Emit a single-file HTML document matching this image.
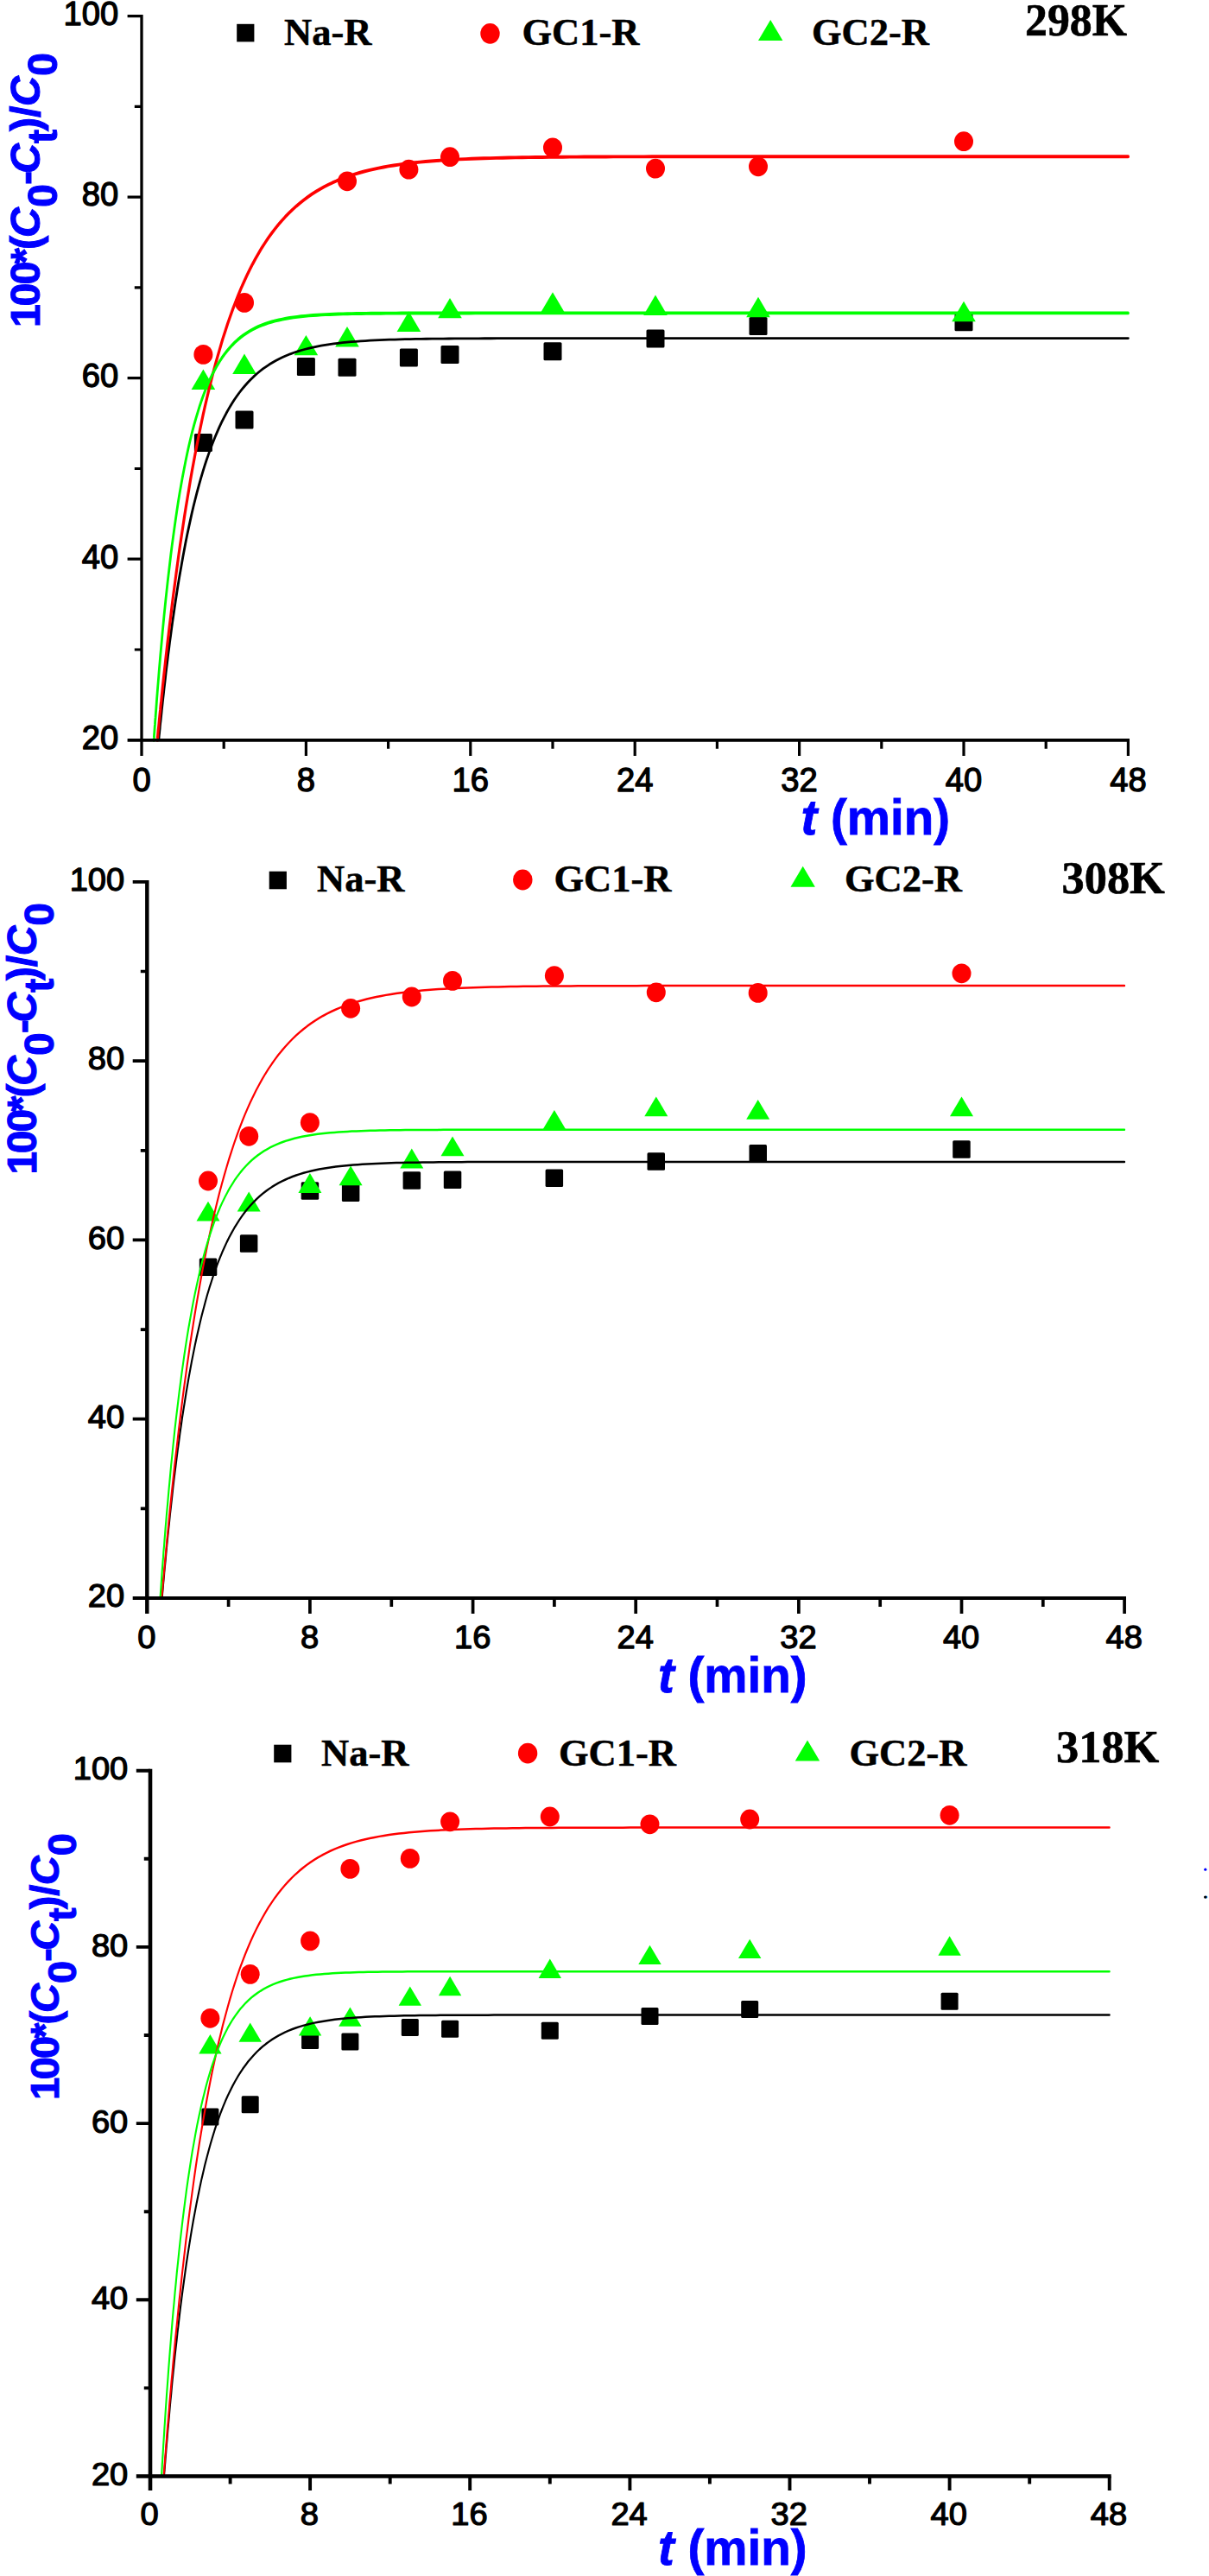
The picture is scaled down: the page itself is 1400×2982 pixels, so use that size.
<!DOCTYPE html>
<html lang="en"><head><meta charset="utf-8"><title>Adsorption kinetics</title>
<style>html,body{margin:0;padding:0;background:#fff}body{width:1400px;height:2982px;overflow:hidden}svg text{white-space:pre}</style></head>
<body>
<svg width="1400" height="2982" viewBox="0 0 1400 2982" style="display:block">
<rect width="1400" height="2982" fill="#fff"/>
<g id="p1">
<g fill="#000"><rect x="224.9" y="502" width="21" height="21" rx="1.5"/><rect x="272.5" y="475.5" width="21" height="21" rx="1.5"/><rect x="343.9" y="414" width="21" height="21" rx="1.5"/><rect x="391.5" y="414.8" width="21" height="21" rx="1.5"/><rect x="462.9" y="403.6" width="21" height="21" rx="1.5"/><rect x="510.5" y="399.9" width="21" height="21" rx="1.5"/><rect x="629.5" y="396.2" width="21" height="21" rx="1.5"/><rect x="748.5" y="381.5" width="21" height="21" rx="1.5"/><rect x="867.5" y="367" width="21" height="21" rx="1.5"/><rect x="1105.5" y="362.3" width="21" height="21" rx="1.5"/></g>
<g fill="#f00"><ellipse cx="235.4" cy="410.4" rx="11" ry="11.4"/><ellipse cx="283" cy="350.4" rx="11" ry="11.4"/><ellipse cx="402" cy="209.8" rx="11" ry="11.4"/><ellipse cx="473.4" cy="196.2" rx="11" ry="11.4"/><ellipse cx="521" cy="181.7" rx="11" ry="11.4"/><ellipse cx="640" cy="170.9" rx="11" ry="11.4"/><ellipse cx="759" cy="195.1" rx="11" ry="11.4"/><ellipse cx="878" cy="192.8" rx="11" ry="11.4"/><ellipse cx="1116" cy="163.7" rx="11" ry="11.4"/></g>
<g fill="#0f0"><path d="M235.4 427.6L249.2 451H221.6Z"/><path d="M283 409.5L296.8 432.9H269.2Z"/><path d="M354.4 387.9L368.2 411.3H340.6Z"/><path d="M402 378L415.8 401.4H388.2Z"/><path d="M473.4 360.6L487.2 384H459.6Z"/><path d="M521 344.9L534.8 368.3H507.2Z"/><path d="M640 338.3L653.8 361.7H626.2Z"/><path d="M759 341.5L772.8 364.9H745.2Z"/><path d="M878 343.8L891.8 367.2H864.2Z"/><path d="M1116 348.8L1129.8 372.2H1102.2Z"/></g>
<path d="M183.7 856.80 L183.7 856.77 L183.8 856.62 L183.8 856.32 L183.8 855.84 L183.9 855.17 L184 854.27 L184.1 853.15 L184.2 851.78 L184.4 850.15 L184.6 848.25 L184.8 846.08 L185.1 843.63 L185.3 840.89 L185.6 837.86 L186 834.53 L186.4 830.91 L186.8 827.00 L187.2 822.78 L187.7 818.28 L188.2 813.48 L188.8 808.40 L189.4 803.04 L190 797.40 L190.7 791.50 L191.4 785.34 L192.1 778.94 L192.9 772.29 L193.8 765.42 L194.6 758.33 L195.6 751.05 L196.5 743.57 L197.6 735.92 L198.6 728.11 L199.7 720.16 L200.9 712.08 L202.1 703.88 L203.3 695.59 L204.6 687.22 L205.9 678.78 L207.3 670.29 L208.8 661.78 L210.3 653.24 L211.8 644.71 L213.4 636.20 L215 627.71 L216.7 619.27 L218.5 610.90 L220.3 602.60 L222.1 594.38 L224 586.27 L226 578.27 L228 570.40 L230.1 562.66 L232.2 555.07 L234.4 547.64 L236.6 540.37 L238.9 533.27 L241.3 526.35 L243.7 519.62 L246.2 513.08 L248.7 506.73 L251.3 500.58 L253.9 494.64 L256.6 488.89 L259.4 483.36 L262.2 478.03 L265.1 472.91 L268 468.00 L271 463.29 L274.1 458.79 L277.2 454.49 L280.4 450.39 L283.7 446.48 L287 442.77 L290.4 439.24 L293.8 435.90 L297.3 432.74 L300.9 429.76 L304.5 426.94 L308.3 424.29 L312 421.79 L315.9 419.45 L319.8 417.25 L323.7 415.20 L327.8 413.28 L331.9 411.49 L336 409.82 L340.3 408.26 L344.6 406.82 L348.9 405.48 L353.4 404.25 L357.9 403.10 L362.4 402.05 L367.1 401.07 L371.8 400.18 L376.6 399.36 L381.5 398.61 L386.4 397.92 L391.4 397.29 L396.4 396.71 L401.6 396.19 L406.8 395.71 L412.1 395.28 L417.4 394.89 L422.9 394.53 L428.4 394.21 L433.9 393.92 L439.6 393.66 L445.3 393.43 L451.1 393.22 L457 393.03 L462.9 392.86 L469 392.71 L475 392.58 L481.2 392.46 L487.5 392.35 L493.8 392.26 L500.2 392.18 L506.7 392.10 L513.2 392.04 L519.8 391.98 L526.5 391.93 L533.3 391.89 L540.2 391.85 L547.1 391.82 L554.1 391.79 L561.2 391.76 L568.4 391.74 L575.7 391.72 L583 391.70 L590.4 391.69 L597.9 391.67 L605.5 391.66 L613.1 391.65 L620.8 391.65 L628.7 391.64 L636.5 391.63 L644.5 391.63 L652.6 391.62 L660.7 391.62 L668.9 391.62 L677.2 391.61 L685.6 391.61 L694.1 391.61 L702.6 391.61 L711.2 391.61 L720 391.61 L728.8 391.60 L737.6 391.60 L746.6 391.60 L755.6 391.60 L764.8 391.60 L774 391.60 L783.3 391.60 L792.7 391.60 L802.2 391.60 L811.7 391.60 L821.3 391.60 L831.1 391.60 L840.9 391.60 L850.8 391.60 L860.8 391.60 L870.9 391.60 L881 391.60 L891.3 391.60 L901.6 391.60 L912 391.60 L922.5 391.60 L933.1 391.60 L943.8 391.60 L954.6 391.60 L965.4 391.60 L976.4 391.60 L987.4 391.60 L998.6 391.60 L1009.8 391.60 L1021.1 391.60 L1032.5 391.60 L1044 391.60 L1055.6 391.60 L1067.2 391.60 L1079 391.60 L1090.8 391.60 L1102.8 391.60 L1114.8 391.60 L1126.9 391.60 L1139.2 391.60 L1151.5 391.60 L1163.9 391.60 L1176.4 391.60 L1188.9 391.60 L1201.6 391.60 L1214.4 391.60 L1227.3 391.60 L1240.2 391.60 L1253.3 391.60 L1266.4 391.60 L1279.6 391.60 L1293 391.60 L1306.4 391.60" fill="none" stroke="#000" stroke-width="2.8" stroke-linejoin="round" stroke-linecap="round"/>
<path d="M182.2 703.02 L182.2 702.99 L182.2 702.86 L182.2 702.61 L182.3 702.21 L182.3 701.64 L182.4 700.89 L182.5 699.94 L182.7 698.79 L182.8 697.41 L183 695.81 L183.2 693.97 L183.5 691.90 L183.8 689.57 L184.1 686.99 L184.4 684.16 L184.8 681.06 L185.2 677.70 L185.7 674.08 L186.1 670.19 L186.7 666.04 L187.2 661.63 L187.8 656.95 L188.4 652.01 L189.1 646.82 L189.8 641.37 L190.6 635.68 L191.4 629.74 L192.2 623.57 L193.1 617.16 L194 610.53 L195 603.69 L196 596.64 L197.1 589.39 L198.2 581.96 L199.3 574.35 L200.5 566.57 L201.8 558.63 L203.1 550.55 L204.4 542.33 L205.8 534.00 L207.2 525.55 L208.7 517.01 L210.3 508.38 L211.9 499.68 L213.5 490.92 L215.2 482.12 L217 473.28 L218.8 464.42 L220.6 455.56 L222.5 446.70 L224.5 437.85 L226.5 429.03 L228.6 420.26 L230.7 411.54 L232.9 402.88 L235.1 394.29 L237.4 385.79 L239.8 377.38 L242.2 369.08 L244.7 360.90 L247.2 352.83 L249.8 344.90 L252.5 337.11 L255.2 329.46 L257.9 321.96 L260.8 314.62 L263.6 307.45 L266.6 300.45 L269.6 293.62 L272.7 286.96 L275.8 280.49 L279 274.20 L282.3 268.10 L285.6 262.19 L289 256.46 L292.4 250.92 L295.9 245.58 L299.5 240.42 L303.1 235.45 L306.9 230.67 L310.6 226.07 L314.5 221.66 L318.4 217.44 L322.3 213.39 L326.4 209.51 L330.5 205.82 L334.7 202.29 L338.9 198.92 L343.2 195.72 L347.6 192.68 L352 189.79 L356.5 187.05 L361.1 184.45 L365.8 182.00 L370.5 179.68 L375.3 177.49 L380.2 175.43 L385.1 173.49 L390.1 171.66 L395.2 169.95 L400.3 168.34 L405.5 166.83 L410.8 165.42 L416.2 164.10 L421.6 162.87 L427.1 161.73 L432.7 160.66 L438.4 159.67 L444.1 158.75 L449.9 157.89 L455.8 157.10 L461.8 156.37 L467.8 155.69 L473.9 155.07 L480.1 154.49 L486.3 153.96 L492.7 153.48 L499.1 153.03 L505.5 152.62 L512.1 152.24 L518.7 151.90 L525.5 151.58 L532.2 151.30 L539.1 151.04 L546.1 150.80 L553.1 150.58 L560.2 150.39 L567.4 150.21 L574.6 150.05 L582 149.90 L589.4 149.77 L596.9 149.65 L604.5 149.55 L612.1 149.45 L619.9 149.36 L627.7 149.29 L635.6 149.22 L643.6 149.16 L651.7 149.10 L659.8 149.05 L668 149.01 L676.3 148.97 L684.7 148.93 L693.2 148.90 L701.8 148.87 L710.4 148.85 L719.1 148.83 L727.9 148.81 L736.8 148.79 L745.8 148.78 L754.9 148.76 L764 148.75 L773.2 148.74 L782.6 148.73 L792 148.73 L801.4 148.72 L811 148.71 L820.7 148.71 L830.4 148.70 L840.2 148.70 L850.2 148.70 L860.2 148.69 L870.2 148.69 L880.4 148.69 L890.7 148.69 L901 148.69 L911.5 148.68 L922 148.68 L932.6 148.68 L943.3 148.68 L954.1 148.68 L965 148.68 L975.9 148.68 L987 148.68 L998.1 148.68 L1009.4 148.68 L1020.7 148.68 L1032.1 148.68 L1043.6 148.68 L1055.2 148.68 L1066.9 148.68 L1078.7 148.68 L1090.5 148.68 L1102.5 148.68 L1114.6 148.68 L1126.7 148.68 L1138.9 148.68 L1151.3 148.68 L1163.7 148.68 L1176.2 148.68 L1188.8 148.68 L1201.5 148.68 L1214.3 148.68 L1227.1 148.68 L1240.1 148.68 L1253.2 148.68 L1266.4 148.68 L1279.6 148.68 L1293 148.68 L1306.4 148.68" transform="scale(1 1.2188)" fill="none" stroke="#f00" stroke-width="3.2" stroke-linejoin="round" stroke-linecap="round"/>
<path d="M178.1 615.14 L178.1 615.10 L178.2 614.95 L178.2 614.65 L178.2 614.17 L178.3 613.48 L178.4 612.57 L178.5 611.42 L178.6 610.03 L178.8 608.38 L179 606.46 L179.2 604.27 L179.5 601.79 L179.7 599.03 L180.1 595.98 L180.4 592.65 L180.8 589.02 L181.2 585.11 L181.6 580.92 L182.1 576.46 L182.6 571.72 L183.2 566.72 L183.8 561.46 L184.4 555.96 L185.1 550.23 L185.8 544.28 L186.6 538.12 L187.4 531.76 L188.2 525.23 L189.1 518.54 L190 511.70 L191 504.73 L192 497.65 L193.1 490.47 L194.2 483.22 L195.4 475.91 L196.6 468.56 L197.8 461.19 L199.1 453.81 L200.5 446.45 L201.9 439.12 L203.3 431.84 L204.8 424.61 L206.3 417.47 L207.9 410.42 L209.6 403.48 L211.3 396.66 L213.1 389.97 L214.9 383.43 L216.7 377.04 L218.6 370.81 L220.6 364.76 L222.6 358.89 L224.7 353.20 L226.9 347.70 L229.1 342.40 L231.3 337.30 L233.6 332.40 L236 327.71 L238.4 323.21 L240.9 318.93 L243.4 314.84 L246 310.96 L248.7 307.27 L251.4 303.78 L254.2 300.48 L257 297.37 L259.9 294.44 L262.9 291.68 L265.9 289.10 L269 286.69 L272.1 284.43 L275.3 282.33 L278.6 280.37 L281.9 278.56 L285.3 276.88 L288.8 275.32 L292.3 273.89 L295.9 272.57 L299.5 271.35 L303.3 270.24 L307.1 269.22 L310.9 268.29 L314.8 267.44 L318.8 266.67 L322.9 265.97 L327 265.33 L331.2 264.76 L335.4 264.24 L339.8 263.78 L344.1 263.36 L348.6 262.98 L353.1 262.65 L357.7 262.35 L362.4 262.08 L367.1 261.85 L372 261.63 L376.8 261.45 L381.8 261.28 L386.8 261.14 L391.9 261.01 L397.1 260.90 L402.3 260.80 L407.6 260.72 L413 260.64 L418.5 260.58 L424 260.52 L429.6 260.47 L435.3 260.43 L441 260.39 L446.9 260.36 L452.8 260.33 L458.7 260.31 L464.8 260.29 L470.9 260.27 L477.1 260.26 L483.4 260.25 L489.7 260.24 L496.2 260.23 L502.7 260.22 L509.3 260.21 L515.9 260.21 L522.7 260.21 L529.5 260.20 L536.4 260.20 L543.3 260.20 L550.4 260.19 L557.5 260.19 L564.7 260.19 L572 260.19 L579.4 260.19 L586.8 260.19 L594.4 260.19 L602 260.19 L609.7 260.19 L617.4 260.19 L625.3 260.19 L633.2 260.19 L641.2 260.19 L649.3 260.19 L657.5 260.19 L665.7 260.18 L674.1 260.18 L682.5 260.18 L691 260.18 L699.6 260.18 L708.3 260.18 L717 260.18 L725.9 260.18 L734.8 260.18 L743.8 260.18 L752.9 260.18 L762.1 260.18 L771.3 260.18 L780.7 260.18 L790.1 260.18 L799.6 260.18 L809.2 260.18 L818.9 260.18 L828.7 260.18 L838.6 260.18 L848.5 260.18 L858.6 260.18 L868.7 260.18 L878.9 260.18 L889.2 260.18 L899.6 260.18 L910 260.18 L920.6 260.18 L931.3 260.18 L942 260.18 L952.8 260.18 L963.7 260.18 L974.8 260.18 L985.9 260.18 L997 260.18 L1008.3 260.18 L1019.7 260.18 L1031.1 260.18 L1042.7 260.18 L1054.3 260.18 L1066 260.18 L1077.9 260.18 L1089.8 260.18 L1101.8 260.18 L1113.9 260.18 L1126.1 260.18 L1138.3 260.18 L1150.7 260.18 L1163.2 260.18 L1175.7 260.18 L1188.4 260.18 L1201.1 260.18 L1213.9 260.18 L1226.9 260.18 L1239.9 260.18 L1253 260.18 L1266.2 260.18 L1279.5 260.18 L1292.9 260.18 L1306.4 260.18" transform="scale(1 1.3929)" fill="none" stroke="#0f0" stroke-width="2.8" stroke-linejoin="round" stroke-linecap="round"/>
<g stroke="#000" fill="none">
<path d="M164 17V874.9" stroke-width="3.3"/>
<path d="M147.6 856.8H1308" stroke-width="3.7"/>
<path d="M155.8 752H164M147.6 647.2H164M155.8 542.5H164M147.6 437.7H164M155.8 332.9H164M147.6 228.1H164M155.8 123.4H164M147.6 18.6H164M259.2 856.8V866.8M354.4 856.8V874.9M449.6 856.8V866.8M544.8 856.8V874.9M640 856.8V866.8M735.2 856.8V874.9M830.4 856.8V866.8M925.6 856.8V874.9M1020.8 856.8V866.8M1116 856.8V874.9M1211.2 856.8V866.8M1306.4 856.8V874.9" stroke-width="3.2"/>
</g>
<g font-family="Liberation Sans, Arial, sans-serif" font-size="38.2" fill="#000" stroke="#000" stroke-width="1.3" stroke-linejoin="round">
<text transform="translate(137.3 867) scale(1 1.035)" text-anchor="end">20</text>
<text transform="translate(137.3 657.5) scale(1 1.035)" text-anchor="end">40</text>
<text transform="translate(137.3 447.9) scale(1 1.035)" text-anchor="end">60</text>
<text transform="translate(137.3 238.3) scale(1 1.035)" text-anchor="end">80</text>
<text transform="translate(137.3 28.8) scale(1 1.035)" text-anchor="end">100</text>
<text transform="translate(164 915.8) scale(1 1.035)" text-anchor="middle">0</text>
<text transform="translate(354.4 915.8) scale(1 1.035)" text-anchor="middle">8</text>
<text transform="translate(544.8 915.8) scale(1 1.035)" text-anchor="middle">16</text>
<text transform="translate(735.2 915.8) scale(1 1.035)" text-anchor="middle">24</text>
<text transform="translate(925.6 915.8) scale(1 1.035)" text-anchor="middle">32</text>
<text transform="translate(1116 915.8) scale(1 1.035)" text-anchor="middle">40</text>
<text transform="translate(1306.4 915.8) scale(1 1.035)" text-anchor="middle">48</text>
</g>
<text x="927.5" y="965.6" font-family="Liberation Sans, Arial, sans-serif" font-size="56.5" font-weight="bold" fill="#00f" stroke="#00f" stroke-width="0.8"><tspan font-style="italic">t</tspan> (min)</text>
<g transform="translate(45.5 379) rotate(-90) scale(1.0)" font-family="Liberation Sans, Arial, sans-serif" font-size="48.5" font-weight="bold" fill="#00f" stroke="#00f" stroke-width="1">
<text><tspan x="0 24.5 49.5 73 90" y="0">100*(</tspan><tspan x="104" y="0" font-style="italic">C</tspan><tspan x="139" y="20.7">0</tspan><tspan x="165" y="0">-</tspan><tspan x="178" y="0" font-style="italic">C</tspan><tspan x="213" y="20.7">t</tspan><tspan x="227 243" y="0">)/</tspan><tspan x="256" y="0" font-style="italic">C</tspan><tspan x="291" y="20.7">0</tspan></text>
</g>
<rect x="274.2" y="27.8" width="20.2" height="20.6" fill="#000"/>
<ellipse cx="567.5" cy="38.8" rx="11.2" ry="11.9" fill="#f00"/>
<path d="M892.2 22.9L906.4 46.9H878Z" fill="#0f0"/>
<g font-family="Liberation Serif, Times New Roman, serif" font-size="44.5" font-weight="bold" fill="#000" stroke="#000" stroke-width="0.5">
<text x="329" y="52.2">Na-R</text>
<text x="604.5" y="52.2">GC1-R</text>
<text x="940" y="52.2">GC2-R</text>
</g>
<text x="1187" y="40.7" font-family="Liberation Serif, Times New Roman, serif" font-size="51.8" font-weight="bold" fill="#000" stroke="#000" stroke-width="0.6">298K</text>
</g>
<g id="p2">
<g fill="#000"><rect x="230.8" y="1456.5" width="20.5" height="20.5" rx="1.5"/><rect x="277.9" y="1429.2" width="20.5" height="20.5" rx="1.5"/><rect x="348.7" y="1368.3" width="20.5" height="20.5" rx="1.5"/><rect x="395.9" y="1370.5" width="20.5" height="20.5" rx="1.5"/><rect x="466.6" y="1356.3" width="20.5" height="20.5" rx="1.5"/><rect x="513.8" y="1355.5" width="20.5" height="20.5" rx="1.5"/><rect x="631.6" y="1353.5" width="20.5" height="20.5" rx="1.5"/><rect x="749.5" y="1334.2" width="20.5" height="20.5" rx="1.5"/><rect x="867.5" y="1325" width="20.5" height="20.5" rx="1.5"/><rect x="1103.2" y="1320.3" width="20.5" height="20.5" rx="1.5"/></g>
<g fill="#f00"><ellipse cx="241" cy="1367" rx="11" ry="11.4"/><ellipse cx="288.2" cy="1315.3" rx="11" ry="11.4"/><ellipse cx="358.9" cy="1299.6" rx="11" ry="11.4"/><ellipse cx="406.1" cy="1167.3" rx="11" ry="11.4"/><ellipse cx="476.8" cy="1154" rx="11" ry="11.4"/><ellipse cx="524" cy="1135.4" rx="11" ry="11.4"/><ellipse cx="641.9" cy="1129.6" rx="11" ry="11.4"/><ellipse cx="759.8" cy="1148.8" rx="11" ry="11.4"/><ellipse cx="877.7" cy="1149.4" rx="11" ry="11.4"/><ellipse cx="1113.5" cy="1126.8" rx="11" ry="11.4"/></g>
<g fill="#0f0"><path d="M241 1390.8L254.5 1413.6H227.5Z"/><path d="M288.2 1379.6L301.7 1402.4H274.7Z"/><path d="M358.9 1358.1L372.4 1380.9H345.4Z"/><path d="M406.1 1349.4L419.6 1372.2H392.6Z"/><path d="M476.8 1329.6L490.3 1352.4H463.3Z"/><path d="M524 1315.5L537.5 1338.3H510.5Z"/><path d="M641.9 1284.9L655.4 1307.7H628.4Z"/><path d="M759.8 1269.4L773.3 1292.2H746.3Z"/><path d="M877.7 1272.9L891.2 1295.7H864.2Z"/><path d="M1113.5 1269.4L1127 1292.2H1100Z"/></g>
<path d="M187.6 1554.00 L187.6 1553.97 L187.6 1553.83 L187.7 1553.54 L187.7 1553.09 L187.8 1552.45 L187.9 1551.60 L188 1550.53 L188.1 1549.23 L188.3 1547.68 L188.5 1545.88 L188.7 1543.82 L188.9 1541.50 L189.2 1538.90 L189.5 1536.03 L189.9 1532.87 L190.2 1529.44 L190.6 1525.73 L191.1 1521.74 L191.6 1517.47 L192.1 1512.94 L192.6 1508.13 L193.2 1503.06 L193.8 1497.73 L194.5 1492.16 L195.2 1486.35 L196 1480.30 L196.7 1474.04 L197.6 1467.56 L198.5 1460.89 L199.4 1454.03 L200.3 1447.01 L201.3 1439.82 L202.4 1432.49 L203.5 1425.04 L204.6 1417.47 L205.8 1409.80 L207.1 1402.05 L208.3 1394.23 L209.7 1386.36 L211 1378.46 L212.5 1370.53 L214 1362.61 L215.5 1354.69 L217.1 1346.80 L218.7 1338.95 L220.4 1331.15 L222.1 1323.42 L223.9 1315.77 L225.7 1308.22 L227.6 1300.77 L229.6 1293.44 L231.6 1286.24 L233.6 1279.18 L235.8 1272.26 L237.9 1265.50 L240.1 1258.90 L242.4 1252.47 L244.8 1246.21 L247.1 1240.14 L249.6 1234.25 L252.1 1228.55 L254.7 1223.04 L257.3 1217.73 L260 1212.61 L262.7 1207.69 L265.5 1202.96 L268.4 1198.43 L271.3 1194.10 L274.3 1189.96 L277.3 1186.01 L280.4 1182.25 L283.6 1178.67 L286.8 1175.28 L290.1 1172.06 L293.5 1169.02 L296.9 1166.14 L300.4 1163.43 L303.9 1160.87 L307.6 1158.47 L311.2 1156.22 L315 1154.11 L318.8 1152.13 L322.6 1150.29 L326.6 1148.57 L330.6 1146.97 L334.7 1145.48 L338.8 1144.10 L343 1142.82 L347.3 1141.63 L351.6 1140.54 L356 1139.53 L360.5 1138.61 L365 1137.75 L369.6 1136.97 L374.3 1136.26 L379.1 1135.60 L383.9 1135.01 L388.8 1134.46 L393.8 1133.97 L398.8 1133.52 L403.9 1133.12 L409.1 1132.75 L414.3 1132.41 L419.6 1132.11 L425 1131.84 L430.5 1131.60 L436 1131.38 L441.6 1131.19 L447.3 1131.02 L453.1 1130.86 L458.9 1130.72 L464.8 1130.60 L470.8 1130.49 L476.8 1130.39 L482.9 1130.31 L489.1 1130.23 L495.4 1130.16 L501.8 1130.11 L508.2 1130.05 L514.7 1130.01 L521.3 1129.97 L527.9 1129.93 L534.7 1129.90 L541.5 1129.88 L548.4 1129.85 L555.3 1129.83 L562.4 1129.82 L569.5 1129.80 L576.7 1129.79 L584 1129.78 L591.3 1129.77 L598.8 1129.76 L606.3 1129.75 L613.9 1129.75 L621.6 1129.74 L629.3 1129.74 L637.1 1129.74 L645.1 1129.73 L653.1 1129.73 L661.1 1129.73 L669.3 1129.73 L677.5 1129.72 L685.8 1129.72 L694.2 1129.72 L702.7 1129.72 L711.3 1129.72 L720 1129.72 L728.7 1129.72 L737.5 1129.72 L746.4 1129.72 L755.4 1129.72 L764.4 1129.72 L773.6 1129.72 L782.8 1129.72 L792.1 1129.72 L801.5 1129.72 L811 1129.72 L820.6 1129.72 L830.3 1129.72 L840 1129.72 L849.8 1129.72 L859.8 1129.72 L869.8 1129.72 L879.8 1129.72 L890 1129.72 L900.3 1129.72 L910.6 1129.72 L921.1 1129.72 L931.6 1129.72 L942.2 1129.72 L952.9 1129.72 L963.7 1129.72 L974.5 1129.72 L985.5 1129.72 L996.5 1129.72 L1007.7 1129.72 L1018.9 1129.72 L1030.2 1129.72 L1041.6 1129.72 L1053.1 1129.72 L1064.7 1129.72 L1076.4 1129.72 L1088.2 1129.72 L1100 1129.72 L1112 1129.72 L1124 1129.72 L1136.1 1129.72 L1148.3 1129.72 L1160.6 1129.72 L1173 1129.72 L1185.5 1129.72 L1198.1 1129.72 L1210.8 1129.72 L1223.6 1129.72 L1236.4 1129.72 L1249.4 1129.72 L1262.4 1129.72 L1275.6 1129.72 L1288.8 1129.72 L1302.1 1129.72" transform="scale(1 1.1905)" fill="none" stroke="#000" stroke-width="2.1" stroke-linejoin="round" stroke-linecap="round"/>
<path d="M187.3 1554.00 L187.3 1553.97 L187.3 1553.83 L187.3 1553.54 L187.4 1553.09 L187.4 1552.45 L187.5 1551.60 L187.6 1550.53 L187.8 1549.22 L187.9 1547.67 L188.1 1545.86 L188.3 1543.79 L188.6 1541.44 L188.9 1538.82 L189.2 1535.91 L189.5 1532.71 L189.9 1529.22 L190.3 1525.44 L190.7 1521.36 L191.2 1516.98 L191.7 1512.31 L192.3 1507.35 L192.9 1502.09 L193.5 1496.54 L194.2 1490.71 L194.9 1484.60 L195.6 1478.21 L196.4 1471.56 L197.2 1464.65 L198.1 1457.49 L199 1450.08 L200 1442.44 L201 1434.57 L202 1426.50 L203.1 1418.22 L204.3 1409.75 L205.5 1401.11 L206.7 1392.30 L208 1383.34 L209.3 1374.24 L210.7 1365.02 L212.1 1355.69 L213.6 1346.27 L215.2 1336.76 L216.7 1327.19 L218.4 1317.56 L220 1307.90 L221.8 1298.22 L223.6 1288.52 L225.4 1278.84 L227.3 1269.17 L229.3 1259.53 L231.3 1249.94 L233.3 1240.41 L235.4 1230.96 L237.6 1221.58 L239.8 1212.31 L242.1 1203.14 L244.4 1194.09 L246.8 1185.17 L249.3 1176.38 L251.8 1167.75 L254.3 1159.27 L257 1150.95 L259.7 1142.80 L262.4 1134.84 L265.2 1127.05 L268.1 1119.46 L271 1112.06 L274 1104.86 L277 1097.86 L280.1 1091.06 L283.3 1084.47 L286.5 1078.10 L289.8 1071.93 L293.2 1065.97 L296.6 1060.22 L300.1 1054.68 L303.6 1049.35 L307.2 1044.22 L310.9 1039.31 L314.7 1034.59 L318.5 1030.08 L322.3 1025.76 L326.3 1021.64 L330.3 1017.70 L334.4 1013.96 L338.5 1010.39 L342.7 1007.00 L347 1003.78 L351.3 1000.73 L355.7 997.85 L360.2 995.12 L364.7 992.54 L369.4 990.11 L374 987.81 L378.8 985.66 L383.6 983.63 L388.5 981.73 L393.5 979.95 L398.5 978.28 L403.6 976.72 L408.8 975.27 L414 973.91 L419.4 972.64 L424.8 971.47 L430.2 970.38 L435.8 969.36 L441.4 968.42 L447 967.55 L452.8 966.75 L458.6 966.01 L464.5 965.32 L470.5 964.70 L476.6 964.12 L482.7 963.59 L488.9 963.10 L495.2 962.65 L501.5 962.24 L508 961.87 L514.5 961.53 L521 961.22 L527.7 960.94 L534.4 960.68 L541.2 960.45 L548.1 960.24 L555.1 960.05 L562.2 959.88 L569.3 959.72 L576.5 959.58 L583.8 959.46 L591.1 959.34 L598.6 959.24 L606.1 959.15 L613.7 959.07 L621.3 959.00 L629.1 958.93 L636.9 958.87 L644.9 958.82 L652.9 958.78 L660.9 958.74 L669.1 958.70 L677.3 958.67 L685.7 958.64 L694.1 958.61 L702.5 958.59 L711.1 958.57 L719.8 958.56 L728.5 958.54 L737.3 958.53 L746.2 958.52 L755.2 958.51 L764.3 958.50 L773.4 958.49 L782.7 958.48 L792 958.48 L801.4 958.47 L810.9 958.47 L820.5 958.46 L830.1 958.46 L839.9 958.46 L849.7 958.45 L859.6 958.45 L869.6 958.45 L879.7 958.45 L889.9 958.45 L900.1 958.45 L910.5 958.45 L920.9 958.44 L931.5 958.44 L942.1 958.44 L952.8 958.44 L963.6 958.44 L974.4 958.44 L985.4 958.44 L996.5 958.44 L1007.6 958.44 L1018.8 958.44 L1030.1 958.44 L1041.6 958.44 L1053.1 958.44 L1064.6 958.44 L1076.3 958.44 L1088.1 958.44 L1099.9 958.44 L1111.9 958.44 L1123.9 958.44 L1136.1 958.44 L1148.3 958.44 L1160.6 958.44 L1173 958.44 L1185.5 958.44 L1198.1 958.44 L1210.8 958.44 L1223.5 958.44 L1236.4 958.44 L1249.4 958.44 L1262.4 958.44 L1275.6 958.44 L1288.8 958.44 L1302.1 958.44" transform="scale(1 1.1905)" fill="none" stroke="#f00" stroke-width="2.1" stroke-linejoin="round" stroke-linecap="round"/>
<path d="M185.5 1554.00 L185.5 1553.96 L185.5 1553.79 L185.6 1553.43 L185.6 1552.87 L185.7 1552.08 L185.8 1551.02 L185.9 1549.70 L186 1548.09 L186.2 1546.17 L186.4 1543.95 L186.6 1541.40 L186.8 1538.52 L187.1 1535.32 L187.4 1531.77 L187.7 1527.89 L188.1 1523.67 L188.5 1519.12 L189 1514.22 L189.4 1509.00 L190 1503.46 L190.5 1497.60 L191.1 1491.43 L191.7 1484.97 L192.4 1478.22 L193.1 1471.20 L193.9 1463.92 L194.7 1456.40 L195.5 1448.65 L196.4 1440.68 L197.3 1432.53 L198.2 1424.20 L199.3 1415.71 L200.3 1407.09 L201.4 1398.35 L202.5 1389.51 L203.7 1380.60 L205 1371.63 L206.3 1362.62 L207.6 1353.60 L209 1344.58 L210.4 1335.58 L211.9 1326.63 L213.4 1317.73 L215 1308.91 L216.6 1300.19 L218.3 1291.57 L220.1 1283.09 L221.9 1274.74 L223.7 1266.55 L225.6 1258.52 L227.6 1250.67 L229.6 1243.01 L231.6 1235.55 L233.7 1228.30 L235.9 1221.26 L238.1 1214.44 L240.4 1207.84 L242.8 1201.48 L245.2 1195.35 L247.6 1189.45 L250.1 1183.79 L252.7 1178.37 L255.3 1173.18 L258 1168.22 L260.8 1163.50 L263.6 1159.01 L266.4 1154.75 L269.4 1150.70 L272.3 1146.88 L275.4 1143.26 L278.5 1139.86 L281.7 1136.65 L284.9 1133.64 L288.2 1130.81 L291.6 1128.17 L295 1125.69 L298.5 1123.39 L302.1 1121.24 L305.7 1119.25 L309.4 1117.40 L313.1 1115.68 L316.9 1114.10 L320.8 1112.64 L324.7 1111.29 L328.8 1110.05 L332.8 1108.92 L337 1107.88 L341.2 1106.93 L345.5 1106.06 L349.8 1105.27 L354.2 1104.55 L358.7 1103.90 L363.3 1103.31 L367.9 1102.78 L372.6 1102.30 L377.3 1101.86 L382.2 1101.47 L387.1 1101.12 L392 1100.81 L397.1 1100.53 L402.2 1100.28 L407.4 1100.06 L412.6 1099.86 L418 1099.68 L423.4 1099.53 L428.8 1099.39 L434.4 1099.27 L440 1099.17 L445.7 1099.07 L451.5 1098.99 L457.3 1098.92 L463.2 1098.86 L469.2 1098.80 L475.3 1098.75 L481.4 1098.71 L487.6 1098.68 L493.9 1098.65 L500.3 1098.62 L506.7 1098.60 L513.2 1098.58 L519.8 1098.56 L526.5 1098.55 L533.2 1098.53 L540 1098.52 L546.9 1098.51 L553.9 1098.51 L561 1098.50 L568.1 1098.50 L575.3 1098.49 L582.6 1098.49 L590 1098.48 L597.4 1098.48 L605 1098.48 L612.6 1098.48 L620.3 1098.48 L628 1098.47 L635.9 1098.47 L643.8 1098.47 L651.8 1098.47 L659.9 1098.47 L668.1 1098.47 L676.3 1098.47 L684.7 1098.47 L693.1 1098.47 L701.6 1098.47 L710.2 1098.47 L718.8 1098.47 L727.6 1098.47 L736.4 1098.47 L745.3 1098.47 L754.3 1098.47 L763.4 1098.47 L772.6 1098.47 L781.8 1098.47 L791.2 1098.47 L800.6 1098.47 L810.1 1098.47 L819.7 1098.47 L829.4 1098.47 L839.1 1098.47 L849 1098.47 L858.9 1098.47 L868.9 1098.47 L879 1098.47 L889.2 1098.47 L899.5 1098.47 L909.9 1098.47 L920.3 1098.47 L930.9 1098.47 L941.5 1098.47 L952.2 1098.47 L963 1098.47 L973.9 1098.47 L984.9 1098.47 L996 1098.47 L1007.1 1098.47 L1018.4 1098.47 L1029.7 1098.47 L1041.1 1098.47 L1052.7 1098.47 L1064.3 1098.47 L1076 1098.47 L1087.7 1098.47 L1099.6 1098.47 L1111.6 1098.47 L1123.7 1098.47 L1135.8 1098.47 L1148 1098.47 L1160.4 1098.47 L1172.8 1098.47 L1185.3 1098.47 L1197.9 1098.47 L1210.6 1098.47 L1223.4 1098.47 L1236.3 1098.47 L1249.3 1098.47 L1262.4 1098.47 L1275.5 1098.47 L1288.8 1098.47 L1302.1 1098.47" transform="scale(1 1.1905)" fill="none" stroke="#0f0" stroke-width="2.1" stroke-linejoin="round" stroke-linecap="round"/>
<g stroke="#000" fill="none">
<path d="M170.3 1019V1867.9" stroke-width="4.4"/>
<path d="M153.7 1850H1304" stroke-width="4.0"/>
<path d="M162.8 1746.4H170.3M153.7 1642.7H170.3M162.8 1539.1H170.3M153.7 1435.4H170.3M162.8 1331.8H170.3M153.7 1228.2H170.3M162.8 1124.5H170.3M153.7 1020.9H170.3M264.6 1850V1859.9M358.9 1850V1867.9M453.3 1850V1859.9M547.6 1850V1867.9M641.9 1850V1859.9M736.2 1850V1867.9M830.5 1850V1859.9M924.9 1850V1867.9M1019.2 1850V1859.9M1113.5 1850V1867.9M1207.8 1850V1859.9M1302.1 1850V1867.9" stroke-width="3.7"/>
</g>
<g font-family="Liberation Sans, Arial, sans-serif" font-size="38.1" fill="#000" stroke="#000" stroke-width="1.3" stroke-linejoin="round">
<text transform="translate(144.2 1860.2) scale(1 0.975)" text-anchor="end">20</text>
<text transform="translate(144.2 1652.9) scale(1 0.975)" text-anchor="end">40</text>
<text transform="translate(144.2 1445.6) scale(1 0.975)" text-anchor="end">60</text>
<text transform="translate(144.2 1238.4) scale(1 0.975)" text-anchor="end">80</text>
<text transform="translate(144.2 1031.1) scale(1 0.975)" text-anchor="end">100</text>
<text transform="translate(169.9 1907.8) scale(1 0.975)" text-anchor="middle">0</text>
<text transform="translate(358.5 1907.8) scale(1 0.975)" text-anchor="middle">8</text>
<text transform="translate(547.2 1907.8) scale(1 0.975)" text-anchor="middle">16</text>
<text transform="translate(735.8 1907.8) scale(1 0.975)" text-anchor="middle">24</text>
<text transform="translate(924.5 1907.8) scale(1 0.975)" text-anchor="middle">32</text>
<text transform="translate(1113.1 1907.8) scale(1 0.975)" text-anchor="middle">40</text>
<text transform="translate(1301.7 1907.8) scale(1 0.975)" text-anchor="middle">48</text>
</g>
<text x="762" y="1958.6" font-family="Liberation Sans, Arial, sans-serif" font-size="56.5" font-weight="bold" fill="#00f" stroke="#00f" stroke-width="0.8"><tspan font-style="italic">t</tspan> (min)</text>
<g transform="translate(42 1359.5) rotate(-90) scale(0.989)" font-family="Liberation Sans, Arial, sans-serif" font-size="48.5" font-weight="bold" fill="#00f" stroke="#00f" stroke-width="1">
<text><tspan x="0 24.5 49.5 73 90" y="0">100*(</tspan><tspan x="104" y="0" font-style="italic">C</tspan><tspan x="139" y="20.7">0</tspan><tspan x="165" y="0">-</tspan><tspan x="178" y="0" font-style="italic">C</tspan><tspan x="213" y="20.7">t</tspan><tspan x="227 243" y="0">)/</tspan><tspan x="256" y="0" font-style="italic">C</tspan><tspan x="291" y="20.7">0</tspan></text>
</g>
<rect x="311.7" y="1008.7" width="20.2" height="20.6" fill="#000"/>
<ellipse cx="605.3" cy="1018.5" rx="11.2" ry="11.9" fill="#f00"/>
<path d="M929.7 1002.7L943.9 1026.7H915.5Z" fill="#0f0"/>
<g font-family="Liberation Serif, Times New Roman, serif" font-size="44.5" font-weight="bold" fill="#000" stroke="#000" stroke-width="0.5">
<text x="367" y="1032.2">Na-R</text>
<text x="641.5" y="1032.2">GC1-R</text>
<text x="978" y="1032.2">GC2-R</text>
</g>
<text x="1229.5" y="1033.8" font-family="Liberation Serif, Times New Roman, serif" font-size="52.4" font-weight="bold" fill="#000" stroke="#000" stroke-width="0.6">308K</text>
</g>
<g id="p3">
<g fill="#000"><rect x="233.4" y="2440.4" width="20" height="20" rx="1.5"/><rect x="279.7" y="2426.3" width="20" height="20" rx="1.5"/><rect x="349.1" y="2351.9" width="20" height="20" rx="1.5"/><rect x="395.4" y="2353.6" width="20" height="20" rx="1.5"/><rect x="464.8" y="2337" width="20" height="20" rx="1.5"/><rect x="511.1" y="2338.7" width="20" height="20" rx="1.5"/><rect x="626.8" y="2340.7" width="20" height="20" rx="1.5"/><rect x="742.5" y="2324.1" width="20" height="20" rx="1.5"/><rect x="858.2" y="2316" width="20" height="20" rx="1.5"/><rect x="1089.6" y="2306.7" width="20" height="20" rx="1.5"/></g>
<g fill="#f00"><ellipse cx="243.4" cy="2336.3" rx="11" ry="11.4"/><ellipse cx="289.7" cy="2285.4" rx="11" ry="11.4"/><ellipse cx="359.1" cy="2246.9" rx="11" ry="11.4"/><ellipse cx="405.4" cy="2163.4" rx="11" ry="11.4"/><ellipse cx="474.8" cy="2151.4" rx="11" ry="11.4"/><ellipse cx="521.1" cy="2108.8" rx="11" ry="11.4"/><ellipse cx="636.8" cy="2103" rx="11" ry="11.4"/><ellipse cx="752.5" cy="2111.8" rx="11" ry="11.4"/><ellipse cx="868.2" cy="2106" rx="11" ry="11.4"/><ellipse cx="1099.6" cy="2101.3" rx="11" ry="11.4"/></g>
<g fill="#0f0"><path d="M243.4 2355L256.6 2377.4H230.2Z"/><path d="M289.7 2341.4L302.9 2363.8H276.5Z"/><path d="M359.1 2334.2L372.3 2356.6H345.9Z"/><path d="M405.4 2323.4L418.6 2345.8H392.2Z"/><path d="M474.8 2299.4L488 2321.8H461.6Z"/><path d="M521.1 2287.8L534.3 2310.2H507.9Z"/><path d="M636.8 2267.6L650 2290H623.6Z"/><path d="M752.5 2251.7L765.7 2274.1H739.3Z"/><path d="M868.2 2244.7L881.4 2267.1H855Z"/><path d="M1099.6 2241.3L1112.8 2263.7H1086.4Z"/></g>
<path d="M190 2407.86 L190 2407.82 L190 2407.67 L190 2407.36 L190.1 2406.87 L190.1 2406.17 L190.2 2405.25 L190.3 2404.08 L190.5 2402.67 L190.6 2400.98 L190.8 2399.02 L191 2396.78 L191.3 2394.25 L191.5 2391.42 L191.8 2388.30 L192.2 2384.87 L192.5 2381.14 L192.9 2377.10 L193.4 2372.77 L193.8 2368.14 L194.3 2363.21 L194.9 2357.99 L195.5 2352.49 L196.1 2346.72 L196.7 2340.68 L197.4 2334.38 L198.2 2327.84 L198.9 2321.06 L199.7 2314.06 L200.6 2306.85 L201.5 2299.45 L202.4 2291.86 L203.4 2284.12 L204.5 2276.22 L205.5 2268.19 L206.7 2260.05 L207.8 2251.80 L209 2243.48 L210.3 2235.09 L211.6 2226.66 L213 2218.19 L214.4 2209.71 L215.8 2201.24 L217.3 2192.78 L218.9 2184.37 L220.5 2176.00 L222.1 2167.70 L223.8 2159.49 L225.6 2151.37 L227.4 2143.36 L229.3 2135.47 L231.2 2127.72 L233.1 2120.11 L235.2 2112.65 L237.2 2105.37 L239.4 2098.25 L241.6 2091.32 L243.8 2084.57 L246.1 2078.02 L248.4 2071.66 L250.8 2065.51 L253.3 2059.57 L255.8 2053.84 L258.4 2048.31 L261 2043.00 L263.7 2037.90 L266.5 2033.02 L269.3 2028.34 L272.2 2023.88 L275.1 2019.62 L278.1 2015.56 L281.1 2011.71 L284.3 2008.05 L287.4 2004.58 L290.7 2001.30 L294 1998.21 L297.3 1995.29 L300.7 1992.54 L304.2 1989.96 L307.8 1987.54 L311.4 1985.27 L315.1 1983.15 L318.8 1981.17 L322.6 1979.32 L326.5 1977.61 L330.4 1976.01 L334.4 1974.53 L338.5 1973.17 L342.6 1971.90 L346.8 1970.73 L351 1969.66 L355.4 1968.67 L359.8 1967.77 L364.2 1966.93 L368.8 1966.17 L373.4 1965.48 L378 1964.85 L382.8 1964.27 L387.6 1963.75 L392.4 1963.27 L397.4 1962.85 L402.4 1962.46 L407.5 1962.11 L412.6 1961.79 L417.9 1961.51 L423.2 1961.25 L428.5 1961.03 L434 1960.82 L439.5 1960.64 L445 1960.48 L450.7 1960.33 L456.4 1960.21 L462.2 1960.09 L468.1 1959.99 L474 1959.90 L480.1 1959.82 L486.1 1959.76 L492.3 1959.69 L498.5 1959.64 L504.9 1959.60 L511.2 1959.55 L517.7 1959.52 L524.2 1959.49 L530.9 1959.46 L537.6 1959.44 L544.3 1959.42 L551.2 1959.40 L558.1 1959.39 L565.1 1959.37 L572.1 1959.36 L579.3 1959.35 L586.5 1959.34 L593.8 1959.34 L601.2 1959.33 L608.7 1959.33 L616.2 1959.32 L623.8 1959.32 L631.5 1959.32 L639.3 1959.31 L647.1 1959.31 L655.1 1959.31 L663.1 1959.31 L671.2 1959.31 L679.4 1959.31 L687.6 1959.30 L695.9 1959.30 L704.4 1959.30 L712.9 1959.30 L721.4 1959.30 L730.1 1959.30 L738.8 1959.30 L747.7 1959.30 L756.6 1959.30 L765.5 1959.30 L774.6 1959.30 L783.8 1959.30 L793 1959.30 L802.3 1959.30 L811.7 1959.30 L821.2 1959.30 L830.8 1959.30 L840.4 1959.30 L850.2 1959.30 L860 1959.30 L869.9 1959.30 L879.9 1959.30 L890 1959.30 L900.1 1959.30 L910.4 1959.30 L920.7 1959.30 L931.1 1959.30 L941.7 1959.30 L952.2 1959.30 L962.9 1959.30 L973.7 1959.30 L984.5 1959.30 L995.5 1959.30 L1006.5 1959.30 L1017.6 1959.30 L1028.8 1959.30 L1040.1 1959.30 L1051.5 1959.30 L1063 1959.30 L1074.5 1959.30 L1086.2 1959.30 L1097.9 1959.30 L1109.7 1959.30 L1121.6 1959.30 L1133.6 1959.30 L1145.7 1959.30 L1157.9 1959.30 L1170.2 1959.30 L1182.6 1959.30 L1195 1959.30 L1207.5 1959.30 L1220.2 1959.30 L1232.9 1959.30 L1245.7 1959.30 L1258.6 1959.30 L1271.6 1959.30 L1284.7 1959.30" transform="scale(1 1.1905)" fill="none" stroke="#000" stroke-width="2.1" stroke-linejoin="round" stroke-linecap="round"/>
<path d="M189.6 2407.86 L189.6 2407.82 L189.6 2407.67 L189.6 2407.35 L189.7 2406.84 L189.7 2406.12 L189.8 2405.17 L189.9 2403.97 L190.1 2402.51 L190.2 2400.77 L190.4 2398.75 L190.6 2396.43 L190.9 2393.80 L191.1 2390.87 L191.4 2387.62 L191.8 2384.04 L192.1 2380.15 L192.5 2375.92 L193 2371.37 L193.4 2366.49 L193.9 2361.28 L194.5 2355.75 L195.1 2349.89 L195.7 2343.72 L196.3 2337.24 L197 2330.45 L197.8 2323.36 L198.5 2315.98 L199.4 2308.32 L200.2 2300.39 L201.1 2292.20 L202.1 2283.76 L203 2275.08 L204.1 2266.17 L205.2 2257.05 L206.3 2247.74 L207.4 2238.24 L208.7 2228.58 L209.9 2218.76 L211.2 2208.80 L212.6 2198.72 L214 2188.54 L215.4 2178.27 L217 2167.92 L218.5 2157.52 L220.1 2147.08 L221.8 2136.61 L223.5 2126.14 L225.2 2115.68 L227 2105.23 L228.9 2094.83 L230.8 2084.48 L232.8 2074.20 L234.8 2064.01 L236.9 2053.91 L239 2043.92 L241.2 2034.05 L243.4 2024.31 L245.7 2014.72 L248.1 2005.28 L250.5 1996.01 L252.9 1986.92 L255.5 1978.01 L258 1969.29 L260.7 1960.77 L263.4 1952.45 L266.1 1944.34 L268.9 1936.45 L271.8 1928.78 L274.7 1921.34 L277.7 1914.12 L280.8 1907.12 L283.9 1900.36 L287.1 1893.83 L290.3 1887.53 L293.6 1881.46 L297 1875.62 L300.4 1870.01 L303.9 1864.62 L307.4 1859.46 L311 1854.52 L314.7 1849.80 L318.4 1845.29 L322.3 1840.99 L326.1 1836.89 L330.1 1833.00 L334.1 1829.30 L338.1 1825.79 L342.2 1822.46 L346.4 1819.32 L350.7 1816.35 L355 1813.54 L359.4 1810.90 L363.9 1808.41 L368.4 1806.07 L373 1803.88 L377.7 1801.82 L382.4 1799.89 L387.2 1798.09 L392.1 1796.41 L397.1 1794.84 L402.1 1793.37 L407.2 1792.01 L412.3 1790.75 L417.5 1789.58 L422.8 1788.49 L428.2 1787.49 L433.7 1786.56 L439.2 1785.70 L444.7 1784.91 L450.4 1784.19 L456.1 1783.52 L461.9 1782.91 L467.8 1782.35 L473.7 1781.83 L479.8 1781.36 L485.9 1780.93 L492 1780.54 L498.3 1780.19 L504.6 1779.86 L511 1779.57 L517.4 1779.30 L524 1779.06 L530.6 1778.84 L537.3 1778.65 L544 1778.47 L550.9 1778.31 L557.8 1778.17 L564.8 1778.04 L571.9 1777.92 L579 1777.82 L586.3 1777.72 L593.6 1777.64 L601 1777.57 L608.4 1777.50 L616 1777.44 L623.6 1777.39 L631.3 1777.35 L639.1 1777.31 L646.9 1777.27 L654.8 1777.24 L662.9 1777.21 L671 1777.19 L679.1 1777.16 L687.4 1777.15 L695.7 1777.13 L704.1 1777.11 L712.6 1777.10 L721.2 1777.09 L729.9 1777.08 L738.6 1777.07 L747.5 1777.06 L756.4 1777.06 L765.4 1777.05 L774.4 1777.05 L783.6 1777.04 L792.8 1777.04 L802.2 1777.04 L811.6 1777.04 L821 1777.03 L830.6 1777.03 L840.3 1777.03 L850 1777.03 L859.8 1777.03 L869.8 1777.03 L879.8 1777.02 L889.8 1777.02 L900 1777.02 L910.3 1777.02 L920.6 1777.02 L931 1777.02 L941.5 1777.02 L952.1 1777.02 L962.8 1777.02 L973.6 1777.02 L984.4 1777.02 L995.4 1777.02 L1006.4 1777.02 L1017.5 1777.02 L1028.7 1777.02 L1040 1777.02 L1051.4 1777.02 L1062.9 1777.02 L1074.5 1777.02 L1086.1 1777.02 L1097.8 1777.02 L1109.7 1777.02 L1121.6 1777.02 L1133.6 1777.02 L1145.7 1777.02 L1157.9 1777.02 L1170.1 1777.02 L1182.5 1777.02 L1195 1777.02 L1207.5 1777.02 L1220.2 1777.02 L1232.9 1777.02 L1245.7 1777.02 L1258.6 1777.02 L1271.6 1777.02 L1284.7 1777.02" transform="scale(1 1.1905)" fill="none" stroke="#f00" stroke-width="2.1" stroke-linejoin="round" stroke-linecap="round"/>
<path d="M187 2407.86 L187 2407.81 L187 2407.61 L187.1 2407.20 L187.1 2406.54 L187.2 2405.61 L187.3 2404.38 L187.4 2402.84 L187.5 2400.95 L187.7 2398.72 L187.8 2396.12 L188.1 2393.15 L188.3 2389.80 L188.6 2386.07 L188.9 2381.94 L189.2 2377.43 L189.6 2372.52 L190 2367.23 L190.4 2361.56 L190.9 2355.51 L191.4 2349.09 L191.9 2342.32 L192.5 2335.19 L193.1 2327.74 L193.8 2319.97 L194.5 2311.89 L195.2 2303.54 L196 2294.91 L196.8 2286.04 L197.7 2276.95 L198.6 2267.66 L199.5 2258.18 L200.5 2248.55 L201.6 2238.79 L202.6 2228.91 L203.8 2218.95 L204.9 2208.93 L206.2 2198.88 L207.4 2188.81 L208.7 2178.75 L210.1 2168.73 L211.5 2158.76 L213 2148.86 L214.5 2139.07 L216 2129.40 L217.6 2119.86 L219.3 2110.47 L221 2101.26 L222.7 2092.24 L224.6 2083.42 L226.4 2074.81 L228.3 2066.43 L230.3 2058.29 L232.3 2050.39 L234.4 2042.74 L236.6 2035.36 L238.7 2028.24 L241 2021.39 L243.3 2014.81 L245.6 2008.50 L248.1 2002.47 L250.5 1996.71 L253.1 1991.23 L255.6 1986.01 L258.3 1981.05 L261 1976.36 L263.7 1971.92 L266.6 1967.73 L269.4 1963.78 L272.4 1960.07 L275.4 1956.59 L278.4 1953.33 L281.6 1950.28 L284.7 1947.43 L288 1944.79 L291.3 1942.32 L294.7 1940.04 L298.1 1937.93 L301.6 1935.97 L305.1 1934.17 L308.8 1932.52 L312.4 1930.99 L316.2 1929.60 L320 1928.32 L323.9 1927.15 L327.8 1926.09 L331.8 1925.12 L335.9 1924.25 L340 1923.45 L344.3 1922.73 L348.5 1922.08 L352.9 1921.50 L357.3 1920.97 L361.8 1920.50 L366.3 1920.08 L370.9 1919.71 L375.6 1919.37 L380.3 1919.07 L385.2 1918.81 L390 1918.57 L395 1918.36 L400 1918.18 L405.1 1918.02 L410.3 1917.88 L415.5 1917.75 L420.8 1917.65 L426.2 1917.55 L431.7 1917.47 L437.2 1917.40 L442.8 1917.33 L448.5 1917.28 L454.2 1917.23 L460 1917.19 L465.9 1917.16 L471.8 1917.13 L477.9 1917.10 L484 1917.08 L490.2 1917.06 L496.4 1917.05 L502.8 1917.03 L509.2 1917.02 L515.6 1917.01 L522.2 1917.00 L528.8 1917.00 L535.5 1916.99 L542.3 1916.99 L549.2 1916.98 L556.1 1916.98 L563.1 1916.98 L570.2 1916.97 L577.4 1916.97 L584.6 1916.97 L592 1916.97 L599.4 1916.97 L606.8 1916.97 L614.4 1916.97 L622 1916.97 L629.8 1916.97 L637.5 1916.97 L645.4 1916.97 L653.4 1916.97 L661.4 1916.96 L669.5 1916.96 L677.7 1916.96 L686 1916.96 L694.4 1916.96 L702.8 1916.96 L711.3 1916.96 L719.9 1916.96 L728.6 1916.96 L737.4 1916.96 L746.2 1916.96 L755.1 1916.96 L764.1 1916.96 L773.2 1916.96 L782.4 1916.96 L791.7 1916.96 L801 1916.96 L810.5 1916.96 L820 1916.96 L829.6 1916.96 L839.2 1916.96 L849 1916.96 L858.9 1916.96 L868.8 1916.96 L878.8 1916.96 L888.9 1916.96 L899.1 1916.96 L909.4 1916.96 L919.7 1916.96 L930.2 1916.96 L940.7 1916.96 L951.3 1916.96 L962.1 1916.96 L972.9 1916.96 L983.7 1916.96 L994.7 1916.96 L1005.8 1916.96 L1016.9 1916.96 L1028.1 1916.96 L1039.5 1916.96 L1050.9 1916.96 L1062.4 1916.96 L1074 1916.96 L1085.6 1916.96 L1097.4 1916.96 L1109.3 1916.96 L1121.2 1916.96 L1133.2 1916.96 L1145.4 1916.96 L1157.6 1916.96 L1169.9 1916.96 L1182.3 1916.96 L1194.8 1916.96 L1207.3 1916.96 L1220 1916.96 L1232.8 1916.96 L1245.6 1916.96 L1258.6 1916.96 L1271.6 1916.96 L1284.7 1916.96" transform="scale(1 1.1905)" fill="none" stroke="#0f0" stroke-width="2.1" stroke-linejoin="round" stroke-linecap="round"/>
<g stroke="#000" fill="none">
<path d="M174 2047.7V2883.1" stroke-width="4.6"/>
<path d="M157.8 2866.5H1286.7" stroke-width="4.4"/>
<path d="M166.8 2764.4H174M157.8 2662.3H174M166.8 2560.2H174M157.8 2458.1H174M166.8 2356H174M157.8 2253.9H174M166.8 2151.8H174M157.8 2049.7H174M266.6 2866.5V2875.4M359.1 2866.5V2883.1M451.7 2866.5V2875.4M544.2 2866.5V2883.1M636.8 2866.5V2875.4M729.4 2866.5V2883.1M821.9 2866.5V2875.4M914.5 2866.5V2883.1M1007 2866.5V2875.4M1099.6 2866.5V2883.1M1192.2 2866.5V2875.4M1284.7 2866.5V2883.1" stroke-width="3.9"/>
</g>
<g font-family="Liberation Sans, Arial, sans-serif" font-size="38.1" fill="#000" stroke="#000" stroke-width="1.3" stroke-linejoin="round">
<text transform="translate(148.3 2877.1) scale(1 0.955)" text-anchor="end">20</text>
<text transform="translate(148.3 2672.9) scale(1 0.955)" text-anchor="end">40</text>
<text transform="translate(148.3 2468.7) scale(1 0.955)" text-anchor="end">60</text>
<text transform="translate(148.3 2264.5) scale(1 0.955)" text-anchor="end">80</text>
<text transform="translate(148.3 2060.3) scale(1 0.955)" text-anchor="end">100</text>
<text transform="translate(173.2 2923) scale(1 0.955)" text-anchor="middle">0</text>
<text transform="translate(358.3 2923) scale(1 0.955)" text-anchor="middle">8</text>
<text transform="translate(543.4 2923) scale(1 0.955)" text-anchor="middle">16</text>
<text transform="translate(728.6 2923) scale(1 0.955)" text-anchor="middle">24</text>
<text transform="translate(913.7 2923) scale(1 0.955)" text-anchor="middle">32</text>
<text transform="translate(1098.8 2923) scale(1 0.955)" text-anchor="middle">40</text>
<text transform="translate(1283.9 2923) scale(1 0.955)" text-anchor="middle">48</text>
</g>
<text x="762" y="2969" font-family="Liberation Sans, Arial, sans-serif" font-size="56.5" font-weight="bold" fill="#00f" stroke="#00f" stroke-width="0.8"><tspan font-style="italic">t</tspan> (min)</text>
<g transform="translate(68 2431) rotate(-90) scale(0.972)" font-family="Liberation Sans, Arial, sans-serif" font-size="48.5" font-weight="bold" fill="#00f" stroke="#00f" stroke-width="1">
<text><tspan x="0 24.5 49.5 73 90" y="0">100*(</tspan><tspan x="104" y="0" font-style="italic">C</tspan><tspan x="139" y="20.7">0</tspan><tspan x="165" y="0">-</tspan><tspan x="178" y="0" font-style="italic">C</tspan><tspan x="213" y="20.7">t</tspan><tspan x="227 243" y="0">)/</tspan><tspan x="256" y="0" font-style="italic">C</tspan><tspan x="291" y="20.7">0</tspan></text>
</g>
<rect x="317.2" y="2019.7" width="20.2" height="20.6" fill="#000"/>
<ellipse cx="611.1" cy="2029.7" rx="11.2" ry="11.9" fill="#f00"/>
<path d="M935 2014.4L949.2 2038.4H920.8Z" fill="#0f0"/>
<g font-family="Liberation Serif, Times New Roman, serif" font-size="44.5" font-weight="bold" fill="#000" stroke="#000" stroke-width="0.5">
<text x="372" y="2043.6">Na-R</text>
<text x="647" y="2043.6">GC1-R</text>
<text x="983.5" y="2043.6">GC2-R</text>
</g>
<text x="1223" y="2039.6" font-family="Liberation Serif, Times New Roman, serif" font-size="52.4" font-weight="bold" fill="#000" stroke="#000" stroke-width="0.6">318K</text>
</g>
<circle cx="1395.8" cy="2164.2" r="1.6" fill="#00f"/><circle cx="1396.8" cy="2196.1" r="1.5" fill="#08f"/><circle cx="1395.7" cy="2196.1" r="1.7" fill="#000"/>
</svg>
</body></html>
